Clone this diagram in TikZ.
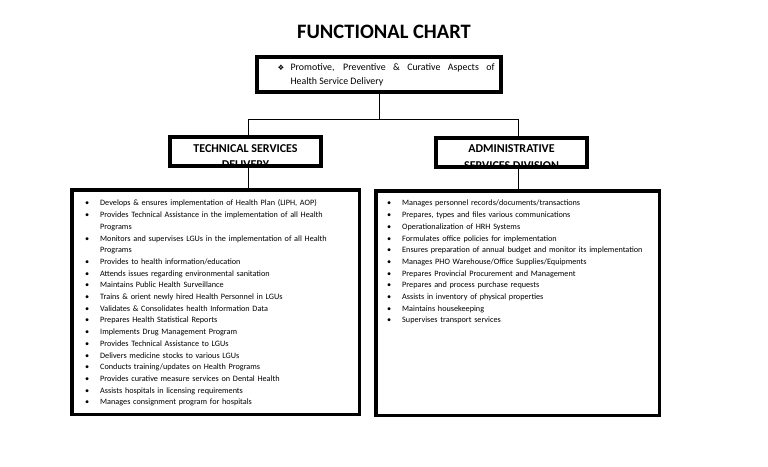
\documentclass[tikz,border=0pt]{standalone}
\usepackage{fontspec}
\setmainfont{Carlito}
\newfontfamily\symfont{DejaVu Sans}
\usetikzlibrary{positioning}

\tikzset{
  hbox/.style={draw, line width=4pt, minimum width=151pt, minimum height=29pt, inner sep=0pt},
  htext/.style={anchor=north, align=center, inner sep=0pt, font=\fontsize{12}{16.7}\selectfont\bfseries},
  listbox/.style={draw, line width=3.5pt, minimum width=#1, minimum height=224.5pt, inner sep=0pt},
  items/.style={anchor=north west, text width=270pt, align=left, inner sep=0pt, font=\fontsize{8.2}{11.7}\selectfont},
  conn/.style={line width=0.8pt}
}
\newcommand{\itm}[1]{\par\noindent\hangindent=15pt\hangafter=1\makebox[15pt][l]{\textbullet}#1}

\begin{document}
\begin{tikzpicture}[x=1pt,y=-1pt]
\useasboundingbox (0,0) rectangle (768,466);
\node[font=\fontsize{20.5}{24}\selectfont\bfseries] (title) at (384,32) {FUNCTIONAL CHART};

% top box
\node[draw, line width=4pt, minimum width=244pt, minimum height=35pt, inner sep=0pt,
  font=\fontsize{9.9}{14}\selectfont] (top) at (379,74.5)
  {\hspace*{14pt}\makebox[13pt][l]{\symfont\fontsize{7.5}{7.5}\selectfont ❖}\parbox[t]{204pt}{Promotive, Preventive \& Curative Aspects of\linebreak Health Service Delivery}};

% the two divisions
\node[hbox, path picture={\node[htext] at ([yshift=-3pt]path picture bounding box.north) {TECHNICAL SERVICES\\DELIVERY};}] (tech) at (245.5,151.5) {};
\node[hbox, path picture={\node[htext] at ([yshift=-3pt]path picture bounding box.north) {ADMINISTRATIVE\\SERVICES DIVISION};}] (admin) at (511.5,152) {};

\node[listbox=287.5pt] (techlist) at (215.5,302) {};
\node[listbox=283.5pt] (adminlist) at (517.5,303) {};

\draw[conn] (top.south) -- ++(0,25) coordinate (split);
\draw[conn] (split) -| ([xshift=2.5pt]tech.north);
\draw[conn] (split) -| ([xshift=6.5pt]admin.north);
\draw[conn] ([xshift=2.5pt]tech.south) -- ([xshift=2.5pt]tech.south |- techlist.north);
\draw[conn] ([xshift=6.5pt]admin.south) -- ([xshift=6.5pt]admin.south |- adminlist.north);

\node[items] (techitems) at (85,194) {%
\itm{Develops \& ensures implementation of Health Plan (LIPH, AOP)}
\itm{Provides Technical Assistance in the implementation of all Health\newline Programs}
\itm{Monitors and supervises LGUs in the implementation of all Health\newline Programs}
\itm{Provides to health information/education}
\itm{Attends issues regarding environmental sanitation}
\itm{Maintains Public Health Surveillance}
\itm{Trains \& orient newly hired Health Personnel in LGUs}
\itm{Validates \& Consolidates health Information Data}
\itm{Prepares Health Statistical Reports}
\itm{Implements Drug Management Program}
\itm{Provides Technical Assistance to LGUs}
\itm{Delivers medicine stocks to various LGUs}
\itm{Conducts training/updates on Health Programs}
\itm{Provides curative measure services on Dental Health}
\itm{Assists hospitals in licensing requirements}
\itm{Manages consignment program for hospitals}};

\node[items] (adminitems) at (387,194) {%
\itm{Manages personnel records/documents/transactions}
\itm{Prepares, types and files various communications}
\itm{Operationalization of HRH Systems}
\itm{Formulates office policies for implementation}
\itm{Ensures preparation of annual budget and monitor its implementation}
\itm{Manages PHO Warehouse/Office Supplies/Equipments}
\itm{Prepares Provincial Procurement and Management}
\itm{Prepares and process purchase requests}
\itm{Assists in inventory of physical properties}
\itm{Maintains housekeeping}
\itm{Supervises transport services}};
\end{tikzpicture}
\end{document}
